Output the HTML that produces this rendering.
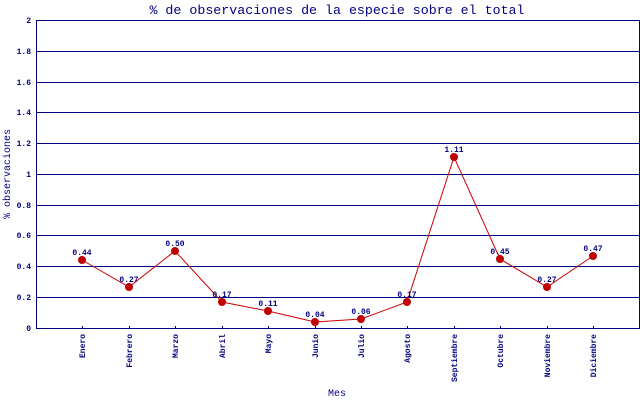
<!DOCTYPE html>
<html><head><meta charset="utf-8"><style>
body{margin:0;background:#fff}
svg{display:block}
text{font-family:"Liberation Mono","DejaVu Sans Mono",monospace;fill:#000080}
</style></head><body>
<svg width="640" height="400" xmlns="http://www.w3.org/2000/svg">
<rect width="640" height="400" fill="#fff"/>
<text x="337" y="14" font-size="13.3" text-anchor="middle">% de observaciones de la especie sobre el total</text>
<g stroke="#000080" stroke-width="1" shape-rendering="crispEdges">
<line x1="36" y1="20.5" x2="640" y2="20.5"/>
<line x1="36" y1="51.5" x2="640" y2="51.5"/>
<line x1="36" y1="82.5" x2="640" y2="82.5"/>
<line x1="36" y1="112.5" x2="640" y2="112.5"/>
<line x1="36" y1="143.5" x2="640" y2="143.5"/>
<line x1="36" y1="174.5" x2="640" y2="174.5"/>
<line x1="36" y1="205.5" x2="640" y2="205.5"/>
<line x1="36" y1="235.5" x2="640" y2="235.5"/>
<line x1="36" y1="266.5" x2="640" y2="266.5"/>
<line x1="36" y1="297.5" x2="640" y2="297.5"/>
<line x1="36" y1="328.5" x2="640" y2="328.5"/>
<line x1="36.5" y1="20" x2="36.5" y2="329"/>
<line x1="639.5" y1="20" x2="639.5" y2="329"/>
<path d="M82.5 326v2M129.5 326v2M175.5 326v2M222.5 326v2M268.5 326v2M315.5 326v2M361.5 326v2M407.5 326v2M454.5 326v2M500.5 326v2M547.5 326v2M593.5 326v2"/>
</g>
<g font-size="8" text-anchor="end" font-weight="bold">
<text x="31" y="23">2</text><text x="31" y="54">1.8</text><text x="31" y="85">1.6</text>
<text x="31" y="115">1.4</text><text x="31" y="146">1.2</text><text x="31" y="177">1</text>
<text x="31" y="208">0.8</text><text x="31" y="238">0.6</text><text x="31" y="269">0.4</text>
<text x="31" y="300">0.2</text><text x="31" y="331">0</text>
</g>
<text transform="translate(10,174) rotate(-90)" font-size="10" text-anchor="middle">% observaciones</text>
<text x="337" y="396" font-size="10" text-anchor="middle">Mes</text>
<g font-size="8" text-anchor="end" font-weight="bold">
<text transform="translate(85,334) rotate(-90)">Enero</text>
<text transform="translate(132,334) rotate(-90)">Febrero</text>
<text transform="translate(178,334) rotate(-90)">Marzo</text>
<text transform="translate(225,334) rotate(-90)">Abril</text>
<text transform="translate(271,334) rotate(-90)">Mayo</text>
<text transform="translate(318,334) rotate(-90)">Junio</text>
<text transform="translate(364,334) rotate(-90)">Julio</text>
<text transform="translate(410,334) rotate(-90)">Agosto</text>
<text transform="translate(457,334) rotate(-90)">Septiembre</text>
<text transform="translate(503,334) rotate(-90)">Octubre</text>
<text transform="translate(550,334) rotate(-90)">Noviembre</text>
<text transform="translate(596,334) rotate(-90)">Diciembre</text>
</g>
<polyline fill="none" stroke="#cc0000" stroke-width="1" points="82,260 129,287 175,251 222,302 268,311 315,322 361,319 407,302 454,157 500,259 547,287 593,256"/>
<g fill="#c00000">
<circle cx="82" cy="260" r="4"/><circle cx="129" cy="287" r="4"/><circle cx="175" cy="251" r="4"/>
<circle cx="222" cy="302" r="4"/><circle cx="268" cy="311" r="4"/><circle cx="315" cy="322" r="4"/>
<circle cx="361" cy="319" r="4"/><circle cx="407" cy="302" r="4"/><circle cx="454" cy="157" r="4"/>
<circle cx="500" cy="259" r="4"/><circle cx="547" cy="287" r="4"/><circle cx="593" cy="256" r="4"/>
</g>
<g font-size="8" text-anchor="middle" font-weight="bold">
<text x="82" y="255">0.44</text><text x="129" y="282">0.27</text><text x="175" y="246">0.50</text>
<text x="222" y="297">0.17</text><text x="268" y="306">0.11</text><text x="315" y="317">0.04</text>
<text x="361" y="314">0.06</text><text x="407" y="297">0.17</text><text x="454" y="152">1.11</text>
<text x="500" y="254">0.45</text><text x="547" y="282">0.27</text><text x="593" y="251">0.47</text>
</g>
</svg>
</body></html>
